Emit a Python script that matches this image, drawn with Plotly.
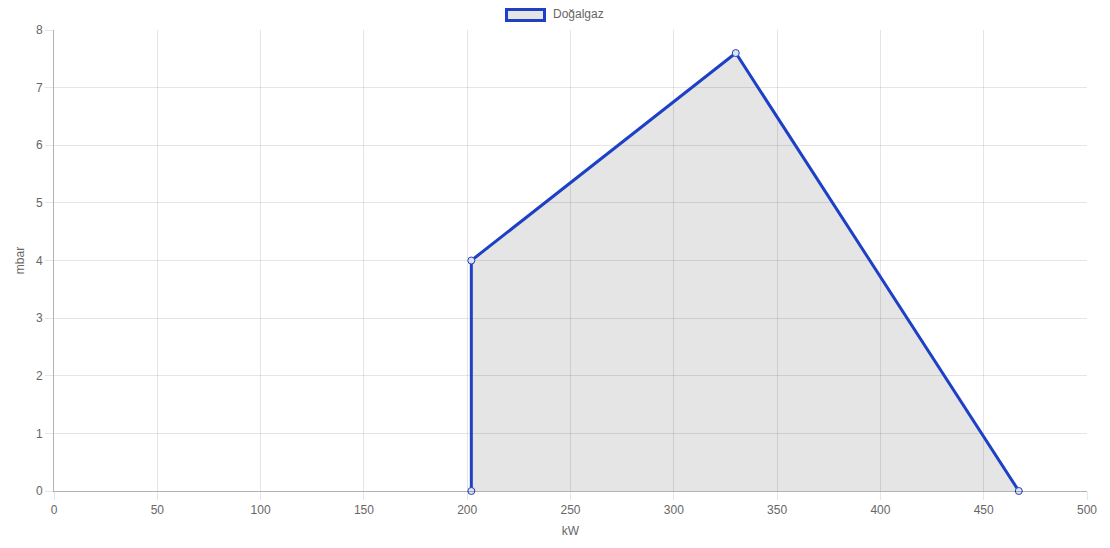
import plotly.graph_objects as go

kw = [202, 202, 330, 467]
mbar = [0, 4, 7.6, 0]
series_name = "Doğalgaz"

# page has an 8px body margin, so the figure is drawn offset by 8px
OFF = 8
W, H = 1110 - OFF, 548 - OFF
L, R, T, B = 54 - OFF, 23, 30 - OFF, 57
pw, ph = W - L - R, H - T - B

line_col = "rgb(29,64,196)"
fill_col = "rgba(0,0,0,0.1)"
grid_col = "rgba(0,0,0,0.1)"
font = dict(family="Liberation Sans, Arial, Helvetica, sans-serif", size=12, color="#666")

fig = go.Figure()
fig.add_trace(go.Scatter(
    x=kw, y=mbar, name=series_name, mode="lines+markers",
    fill="tozeroy", fillcolor=fill_col,
    line=dict(color=line_col, width=3),
    marker=dict(symbol="circle", size=7, color="rgb(225,228,240)", line=dict(color=line_col, width=1)),
    cliponaxis=False,
    showlegend=False,
))

def px2x(px):
    return (px - OFF - L) / pw

def py2y(py):
    return (H - B - (py - OFF)) / ph

fig.add_shape(type="rect", xref="paper", yref="paper",
              x0=px2x(506.5), x1=px2x(544.5), y0=py2y(20.5), y1=py2y(9.5),
              fillcolor=fill_col, line=dict(color=line_col, width=3))
fig.add_annotation(xref="paper", yref="paper", x=px2x(551), y=py2y(14),
                   text=series_name, showarrow=False, xanchor="left", yanchor="middle",
                   font=font)

fig.update_layout(
    width=W, height=H,
    margin=dict(l=L, r=R, t=T, b=B),
    paper_bgcolor="white", plot_bgcolor="white",
    font=font,
    showlegend=False,
    xaxis=dict(range=[0, 500], dtick=50, tick0=0, showgrid=True, gridcolor=grid_col,
               zeroline=False, showline=True, linecolor="rgba(0,0,0,0.3)", linewidth=1,
               ticks="outside", ticklen=8, tickcolor=grid_col,
               title=dict(text="kW", font=font, standoff=10), tickfont=font),
    yaxis=dict(range=[0, 8], dtick=1, tick0=0, showgrid=True, gridcolor=grid_col,
               zeroline=False, showline=True, linecolor="rgba(0,0,0,0.3)", linewidth=1,
               ticks="outside", ticklen=8, tickcolor=grid_col,
               title=dict(text="mbar", font=font, standoff=8), tickfont=font),
)

fig.write_html("out.html")
